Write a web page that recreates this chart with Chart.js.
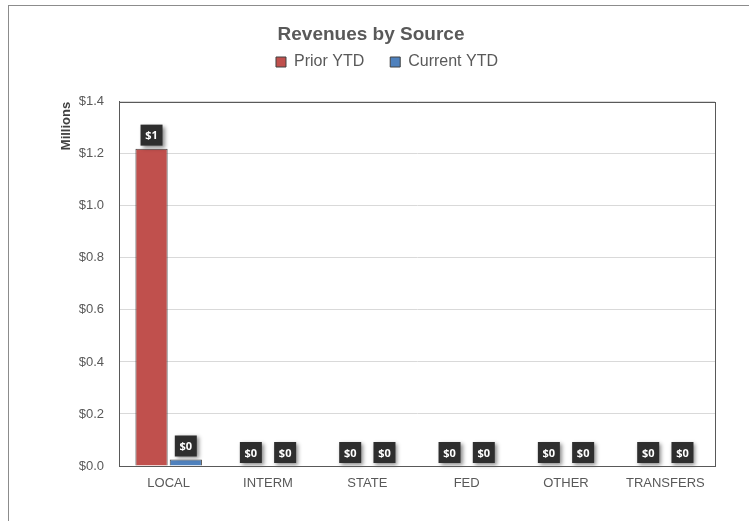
<!DOCTYPE html>
<html>
<head>
<meta charset="utf-8">
<script src="https://cdn.jsdelivr.net/npm/chart.js@4"></script>
<style>
  body { margin: 0; background: #fff; overflow: hidden; }
  #frame { position: absolute; left: 8px; top: 5px; width: 800px; height: 600px;
           border-left: 1px solid #8c8c8c; border-top: 1px solid #8c8c8c; }
  #wrap { position: absolute; left: 0; top: 0; width: 749px; height: 521px; }
</style>
</head>
<body>
<div id="frame"></div>
<div id="wrap"><canvas id="revChart"></canvas></div>
<script>
const categories = ['LOCAL', 'INTERM', 'STATE', 'FED', 'OTHER', 'TRANSFERS'];
const priorYTD = [1.22, 0, 0, 0, 0, 0];     // millions
const currentYTD = [0.025, 0, 0, 0, 0, 0];  // millions

const textColor = '#595959';

// push legend where excel put it
const legendPlace = {
    id: 'legendPlace',
    beforeInit(chart) {
        const fit = chart.legend.fit;
        chart.legend.fit = function () {
            fit.call(this);
            this.height = 52;
        };
    },
    afterLayout(chart) {
        const lg = chart.legend;
        const h = lg.bottom - lg.top;
        lg.top = 28;
        lg.bottom = lg.top + h;
        lg.left += 16;
        lg.right += 16;
    }
};

// frame round the plot area
const plotFrame = {
    id: 'plotFrame',
    afterDraw(chart) {
        const a = chart.chartArea;
        const c = chart.ctx;
        c.save();
        c.strokeStyle = '#595959';
        c.lineWidth = 1;
        c.strokeRect(Math.round(a.left) + 0.5, Math.round(a.top) + 0.5,
                     Math.round(a.right - a.left), Math.round(a.bottom - a.top));
        c.restore();
    }
};

// dark value boxes above each bar
const valueBoxes = {
    id: 'valueBoxes',
    afterDatasetsDraw(chart) {
        const c = chart.ctx;
        chart.data.datasets.forEach((ds, i) => {
            const meta = chart.getDatasetMeta(i);
            meta.data.forEach((bar, j) => {
                const txt = '$' + Math.round(ds.data[j]);
                const w = 22, h = 21;
                const x = bar.x - w / 2;
                const y = bar.y - 3 - h;
                c.save();
                c.shadowColor = 'rgba(0,0,0,0.45)';
                c.shadowBlur = 4;
                c.shadowOffsetX = 2;
                c.shadowOffsetY = 2;
                c.fillStyle = '#2e2e2e';
                c.fillRect(x, y, w, h);
                c.restore();
                c.save();
                c.fillStyle = '#ffffff';
                c.font = 'bold 11px "Open Sans"';
                c.textAlign = 'center';
                c.textBaseline = 'middle';
                c.fillText(txt, bar.x, y + h / 2 + 1);
                c.restore();
            });
        });
    }
};

const ctx = document.getElementById('revChart').getContext('2d');
const revChart = new Chart(ctx, {
    type: 'bar',
    data: {
        labels: categories,
        datasets: [{
            label: 'Prior YTD',
            data: priorYTD,
            backgroundColor: '#C0504D',
            borderColor: '#404040',
            borderWidth: c => (c.raw > 0 ? 1 : 0),
        }, {
            label: 'Current YTD',
            data: currentYTD,
            backgroundColor: '#4F81BD',
            borderColor: '#404040',
            borderWidth: c => (c.raw > 0 ? 1 : 0),
        }],
    },
    options: {
        responsive: true,
        maintainAspectRatio: false,
        animation: false,
        categoryPercentage: 0.69,
        barPercentage: 0.94,
        layout: { padding: { left: 27, right: 34, top: 0, bottom: 15 } },
        plugins: {
            title: {
                display: true,
                text: 'Revenues by Source',
                color: textColor,
                font: { family: 'Liberation Sans', size: 19, weight: 'bold' },
                padding: { top: 23, bottom: 4 },
            },
            legend: {
                labels: {
                    color: textColor,
                    font: { family: 'Liberation Sans', size: 16 },
                    boxWidth: 10,
                    boxHeight: 10,
                    padding: 26,
                },
            },
            tooltip: { enabled: false },
        },
        scales: {
            x: {
                grid: { display: false },
                border: { color: '#595959' },
                ticks: {
                    color: textColor,
                    font: { family: 'Liberation Sans', size: 13 },
                    padding: 2,
                },
                afterFit(scale) { scale.height = 40; },
            },
            y: {
                min: 0,
                max: 1.4,
                grid: { color: '#d9d9d9', drawTicks: false },
                border: { color: '#595959' },
                ticks: {
                    stepSize: 0.2,
                    color: textColor,
                    font: { family: 'Liberation Sans', size: 13 },
                    padding: 15,
                    callback: v => '$' + v.toFixed(1),
                },
                title: {
                    display: true,
                    text: 'Millions',
                    align: 'end',
                    color: '#404040',
                    font: { family: 'Liberation Sans', size: 13, weight: 'bold' },
                    padding: { top: 32, bottom: 0 },
                },
                afterFit(scale) { scale.width = 92; },
            },
        },
    },
    plugins: [legendPlace, plotFrame, valueBoxes],
});
</script>
</body>
</html>
